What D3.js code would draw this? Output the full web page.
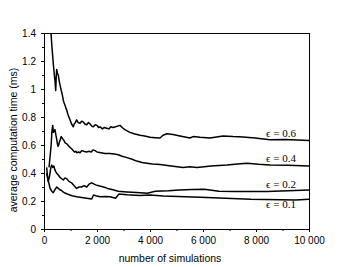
<!DOCTYPE html>
<html>
<head>
<meta charset="utf-8">
<script src="https://cdn.jsdelivr.net/npm/d3@7"></script>
<style>
  body { margin: 0; background: #fff; }
  svg { display: block; }
  .tick text { font-family: "Liberation Sans", Arial, sans-serif; font-size: 10px; fill: #000; }
  .lbl { font-family: "Liberation Serif", "Times New Roman", serif; font-size: 11px; }
  .title { font-family: "Liberation Sans", Arial, sans-serif; font-size: 10.5px; }
</style>
</head>
<body>
<svg id="chart" width="354" height="267"></svg>
<script>
// ---------- data ----------

const eps06 = [
  [250, 1.45], [264, 1.40], [300, 1.30], [351, 1.18], [390, 1.10], [415, 1.06],
  [442, 0.99], [460, 1.08], [479, 1.14], [510, 1.11], [540, 1.10], [570, 1.06],
  [604, 1.03], [650, 0.99], [690, 0.96], [728, 0.92], [760, 0.90], [800, 0.88],
  [830, 0.86], [857, 0.85], [900, 0.82], [940, 0.80], [981, 0.78], [1040, 0.75],
  [1106, 0.73], [1140, 0.75], [1180, 0.76], [1234, 0.78], [1290, 0.76],
  [1359, 0.755], [1420, 0.77], [1480, 0.765], [1540, 0.75], [1611, 0.745],
  [1680, 0.76], [1740, 0.75], [1800, 0.735], [1861, 0.73], [1930, 0.745],
  [2000, 0.74], [2060, 0.725], [2113, 0.73], [2200, 0.715], [2280, 0.725],
  [2366, 0.72], [2450, 0.715], [2520, 0.73], [2604, 0.725], [2700, 0.73],
  [2868, 0.74], [2950, 0.725], [3050, 0.71], [3245, 0.69], [3400, 0.68],
  [3623, 0.67], [3800, 0.665], [4000, 0.655], [4200, 0.652], [4377, 0.65],
  [4491, 0.67], [4642, 0.68], [4868, 0.675], [5132, 0.665], [5510, 0.65],
  [5623, 0.66], [5887, 0.655], [6264, 0.65], [6755, 0.665], [7132, 0.66],
  [7510, 0.657], [7962, 0.65], [8528, 0.637], [9094, 0.64], [10000, 0.632]
];

const eps04 = [
  [190, 0.44], [230, 0.52], [270, 0.60], [300, 0.70], [330, 0.74], [355, 0.69],
  [380, 0.70], [415, 0.71], [450, 0.67], [480, 0.64], [505, 0.61], [530, 0.59],
  [555, 0.60], [580, 0.62], [615, 0.64], [650, 0.66], [685, 0.65], [720, 0.64],
  [760, 0.63], [800, 0.615], [850, 0.61], [900, 0.60], [950, 0.59], [1000, 0.58],
  [1060, 0.57], [1100, 0.56], [1150, 0.55], [1200, 0.555], [1240, 0.545],
  [1300, 0.55], [1360, 0.545], [1420, 0.56], [1500, 0.555], [1600, 0.55],
  [1700, 0.555], [1780, 0.55], [1850, 0.565], [1930, 0.56], [2000, 0.55],
  [2150, 0.545], [2300, 0.54], [2480, 0.54], [2650, 0.535], [2800, 0.53],
  [2950, 0.52], [3130, 0.51], [3300, 0.5], [3500, 0.485], [3700, 0.475],
  [3887, 0.47], [4100, 0.465], [4377, 0.46], [4800, 0.45], [5245, 0.44],
  [5500, 0.445], [5774, 0.44], [6300, 0.45], [6906, 0.457], [7300, 0.465],
  [7660, 0.47], [8100, 0.462], [8528, 0.457], [9200, 0.455], [10000, 0.45]
];

const eps02 = [
  [100, 0.44], [130, 0.38], [160, 0.34], [200, 0.37], [230, 0.40], [260, 0.44],
  [290, 0.457], [330, 0.44], [370, 0.45], [415, 0.42], [470, 0.40], [540, 0.386],
  [600, 0.37], [660, 0.36], [730, 0.35], [790, 0.365], [855, 0.36], [940, 0.34],
  [1040, 0.33], [1130, 0.31], [1230, 0.29], [1320, 0.30], [1420, 0.30],
  [1510, 0.31], [1610, 0.30], [1700, 0.32], [1800, 0.33], [1950, 0.315],
  [2100, 0.307], [2250, 0.30], [2400, 0.29], [2600, 0.28], [2800, 0.27],
  [3130, 0.265], [3500, 0.26], [3900, 0.256], [4200, 0.27], [4700, 0.274],
  [5100, 0.279], [5600, 0.283], [6050, 0.284], [6600, 0.27], [7200, 0.267],
  [8400, 0.268], [9200, 0.273], [10000, 0.279]
];

const eps01 = [
  [100, 0.40], [140, 0.36], [180, 0.33], [230, 0.29], [290, 0.27], [350, 0.26],
  [410, 0.28], [480, 0.30], [540, 0.29], [600, 0.28], [660, 0.275], [720, 0.265],
  [790, 0.257], [880, 0.25], [980, 0.243], [1100, 0.235], [1230, 0.23],
  [1420, 0.225], [1610, 0.22], [1800, 0.214], [1870, 0.243], [2000, 0.235],
  [2110, 0.23], [2300, 0.232], [2500, 0.23], [2700, 0.22], [2830, 0.25],
  [3130, 0.245], [3620, 0.24], [4000, 0.243], [4500, 0.235], [5900, 0.226],
  [7800, 0.212], [9500, 0.207], [10000, 0.213]
];

const series = [eps06, eps04, eps02, eps01];
const seriesLabels = ["ϵ = 0.6", "ϵ = 0.4", "ϵ = 0.2", "ϵ = 0.1"];
const labelBaselines = [136.5, 161.5, 188, 208];

const xTicks = [0, 2000, 4000, 6000, 8000, 10000];
const xMinor = [1000, 3000, 5000, 7000, 9000];
const yTicks = [0, 0.2, 0.4, 0.6, 0.8, 1, 1.2, 1.4];
const yMinor = [0.1, 0.3, 0.5, 0.7, 0.9, 1.1, 1.3];

// ---------- scales ----------

const plotLeft = 44, plotRight = 309, plotTop = 33, plotBottom = 229;

const x = d3.scaleLinear().domain([0, 10000]).range([plotLeft, plotRight]);
const y = d3.scaleLinear().domain([0, 1.4]).range([plotBottom, plotTop]);

const svg = d3.select("#chart");

const fmtX = (d) => d3.format(",")(d).replace(/,/g, " ");

// minor ticks first
svg.append("g")
  .attr("transform", `translate(0,${plotBottom})`)
  .call(d3.axisBottom(x).tickValues(xMinor).tickSize(2).tickFormat(""))
  .call((g) => g.select(".domain").remove());

svg.append("g")
  .attr("transform", `translate(${plotLeft},0)`)
  .call(d3.axisLeft(y).tickValues(yMinor).tickSize(2).tickFormat(""))
  .call((g) => g.select(".domain").remove());

// major ticks
svg.append("g")
  .attr("transform", `translate(0,${plotBottom})`)
  .call(d3.axisBottom(x).tickValues(xTicks).tickSize(3).tickPadding(5).tickFormat(fmtX))
  .call((g) => g.select(".domain").remove());

svg.append("g")
  .attr("transform", `translate(${plotLeft},0)`)
  .call(d3.axisLeft(y).tickValues(yTicks).tickSize(3).tickPadding(5).tickFormat(d3.format("")))
  .call((g) => g.select(".domain").remove());

// frame
svg.append("rect")
  .attr("x", plotLeft + 0.5)
  .attr("y", plotTop + 0.5)
  .attr("width", plotRight - plotLeft)
  .attr("height", plotBottom - plotTop)
  .attr("fill", "none")
  .attr("stroke", "#000")
  .attr("stroke-width", 1);

// ---------- curves ----------

svg.append("clipPath")
  .attr("id", "plot-clip")
  .append("rect")
  .attr("x", plotLeft)
  .attr("y", plotTop)
  .attr("width", plotRight - plotLeft)
  .attr("height", plotBottom - plotTop);

const line = d3.line()
  .x((d) => x(d[0]))
  .y((d) => y(d[1]));

svg.append("g")
  .attr("clip-path", "url(#plot-clip)")
  .selectAll("path")
  .data(series)
  .join("path")
  .attr("d", line)
  .attr("fill", "none")
  .attr("stroke", "#000")
  .attr("stroke-width", 1.5)
  .attr("stroke-linejoin", "round");

svg.selectAll("text.lbl")
  .data(seriesLabels)
  .join("text")
  .attr("class", "lbl")
  .attr("x", 296)
  .attr("y", (d, i) => labelBaselines[i])
  .attr("text-anchor", "end")
  .text((d) => d);

// ---------- axis titles ----------

svg.append("text")
  .attr("class", "title")
  .attr("x", 170)
  .attr("y", 262)
  .attr("text-anchor", "middle")
  .text("number of simulations");

svg.append("text")
  .attr("class", "title")
  .attr("transform", "translate(17,140) rotate(-90)")
  .attr("text-anchor", "middle")
  .text("average computation time (ms)");
</script>
</body>
</html>
